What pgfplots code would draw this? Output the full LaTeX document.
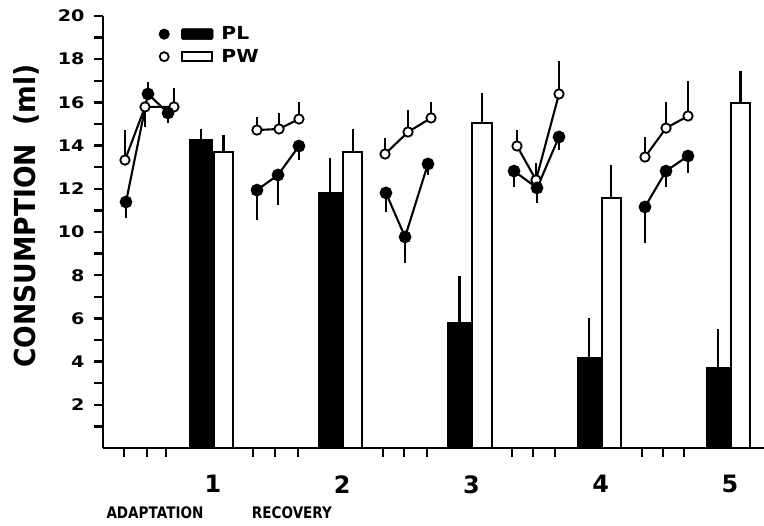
\documentclass[border=0pt]{standalone}
\usepackage{fontspec}
\setmainfont{Liberation Sans}
\newfontfamily\dv{DejaVu Sans}
\newfontfamily\dvW[FakeStretch=1.2]{DejaVu Sans}
\newfontfamily\dvL[FakeStretch=1.13]{DejaVu Sans}
\newfontfamily\dvN[FakeStretch=0.92]{DejaVu Sans}
\newfontfamily\dvA[FakeStretch=0.85]{DejaVu Sans}
\usepackage{pgfplots}
\pgfplotsset{compat=1.18}
\usepackage{pgfplotstable}

\pgfplotstableread{
x y ep em
0.327 11.39 0 0.74
0.497 16.39 0.55 0
0.652 15.51 0 0.46
nan nan 0 0
1.340 11.94 0 1.38
1.503 12.64 0 1.39
1.665 13.98 0 0.65
nan nan 0 0
2.338 11.81 0 0.88
2.486 9.77 0 1.20
2.663 13.15 0 0.51
nan nan 0 0
3.329 12.82 0 0.74
3.507 12.04 0 0.70
3.677 14.40 0 0.60
nan nan 0 0
4.342 11.16 0 1.67
4.505 12.82 0 0.74
4.675 13.52 0 0.79
}\PLline

\pgfplotstableread{
x y ep em
0.319 13.33 1.39 0
0.474 15.79 0 0.93
0.698 15.79 0.88 0
nan nan 0 0
1.340 14.72 0.60 0
1.511 14.77 0.74 0
1.665 15.23 0.79 0
nan nan 0 0
2.331 13.61 0.74 0
2.509 14.63 1.02 0
2.687 15.28 0.74 0
nan nan 0 0
3.352 13.98 0.74 0
3.499 12.41 0.79 0
3.677 16.39 1.53 0
nan nan 0 0
4.342 13.47 0.93 0
4.505 14.81 1.20 0
4.675 15.37 1.62 0
}\PWline

\pgfplotstableread{
x y ep
0.907 14.26 0.51
1.907 11.81 1.62
2.907 5.79 2.17
3.907 4.17 1.85
4.907 3.70 1.81
}\PLbar

\pgfplotstableread{
x y ep
1.081 13.70 0.79
2.081 13.70 1.07
3.081 15.05 1.39
4.081 11.57 1.53
5.081 15.97 1.48
}\PWbar

\begin{document}
\begin{tikzpicture}
\useasboundingbox (0,0) rectangle (764bp,526bp);
\begin{axis}[
  at={(103bp,78bp)}, anchor=south west,
  scale only axis, width=661bp, height=432bp,
  xmin=0.149, xmax=5.263, ymin=0, ymax=20,
  axis x line=bottom, axis y line=left,
  axis line style={-, line width=2.5bp},
  tick align=outside,
  major tick length=9bp, minor tick length=9bp,
  xtick style={black, line width=2.4bp},
  ytick style={black, line width=2.4bp},
  minor tick style={black, line width=2.4bp},
  ytick={2,4,...,20}, minor ytick={1,3,...,19},
  xtick={0.311,0.489,0.636,1.309,1.480,1.658,2.315,2.478,2.656,3.313,3.476,3.646,4.319,4.482,4.644},
  xticklabels={},
  extra x ticks={1,2,3,4,5},
  extra x tick labels={1,2,3,4,5},
  extra x tick style={major tick length=0pt, xticklabel style={font=\dv\bfseries\fontsize{24}{24}\selectfont, yshift=-24bp}},
  /pgf/number format/assume math mode=true,
  yticklabel style={font=\dvW\bfseries\fontsize{16}{16}\selectfont},
  yticklabel shift=6bp,
  ylabel={CONSUMPTION\ \ (ml)},
  ylabel style={at={(rel axis cs:-0.1165,0.537)}, anchor=center, font=\dvN\bfseries\fontsize{29}{29}\selectfont},
  clip=false,
  legend style={at={(rel axis cs:0.084,0.98)}, anchor=north west, draw=none, fill=none,
    font=\dvL\bfseries\fontsize{18}{18}\selectfont, row sep=4bp, inner sep=0pt,
    /tikz/every odd column/.append style={column sep=6bp}},
  legend cell align=left,
]
\addlegendimage{legend image code/.code={\fill[black] (0bp,0bp) circle (5.3bp); \fill[black,rounded corners=1.5bp] (17bp,-5.5bp) rectangle (49bp,5.5bp);}}
\addlegendentry{PL}
\addlegendimage{legend image code/.code={\draw[black,line width=1.8bp,fill=white] (0bp,0bp) circle (4.5bp); \draw[black,line width=2bp] (18bp,-4.8bp) rectangle (48bp,4.8bp);}}
\addlegendentry{PW}

\addplot[ybar, bar width=0.172, bar shift=0pt, fill=black, draw=black, line width=1.8bp, forget plot,
  error bars/.cd, y dir=plus, y explicit, error mark=none, error bar style={line width=2.2bp}]
  table[x=x, y=y, y error=ep]{\PLbar};
\addplot[ybar, bar width=0.148, bar shift=0pt, fill=white, draw=black, line width=2bp, forget plot,
  error bars/.cd, y dir=plus, y explicit, error mark=none, error bar style={line width=2.2bp}]
  table[x=x, y=y, y error=ep]{\PWbar};

\addplot[black, line width=2.1bp, mark=*, mark size=4.7bp, mark options={fill=white, draw=black, line width=1.8bp},
  unbounded coords=jump, forget plot,
  error bars/.cd, y dir=both, y explicit, error mark=none, error bar style={line width=2.2bp}]
  table[x=x, y=y, y error plus=ep, y error minus=em]{\PWline};
\addplot[black, line width=2.1bp, mark=*, mark size=5.3bp, mark options={fill=black, draw=black},
  unbounded coords=jump, forget plot,
  error bars/.cd, y dir=both, y explicit, error mark=none, error bar style={line width=2.2bp}]
  table[x=x, y=y, y error plus=ep, y error minus=em]{\PLline};

\node[font=\dvA\bfseries\fontsize{16}{16}\selectfont, anchor=center, yshift=-65bp] at (axis cs:0.551,0) {ADAPTATION};
\node[font=\dvA\bfseries\fontsize{16}{16}\selectfont, anchor=center, yshift=-65bp] at (axis cs:1.611,0) {RECOVERY};
\end{axis}
\end{tikzpicture}
\end{document}
